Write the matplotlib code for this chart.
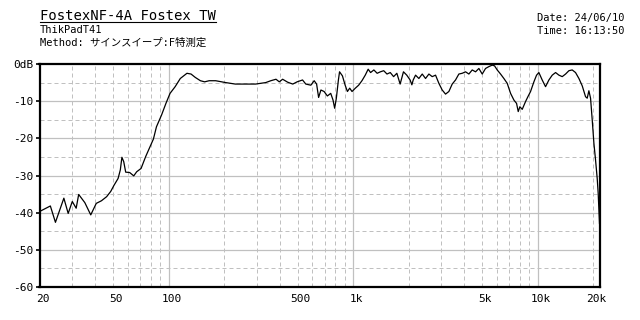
import matplotlib
matplotlib.use('Agg')
import matplotlib.pyplot as plt
from matplotlib.lines import Line2D
from matplotlib.transforms import IdentityTransform, ScaledTranslation

# ---- data ----
freq_hz = [20, 22.9, 24.4, 27.1, 28.6, 30.1, 31.6, 32.6, 35.2, 37.9, 40.6, 43.3, 46.2,
           48.6, 50.7, 53.3, 54.8, 55.9, 57.2, 58.6, 61.6, 64.8, 67.2, 71.0, 75.2, 79.2,
           82.8, 86.0, 91.7, 96.8, 101.9, 108.6, 115.8, 125.8, 132.4, 139.5, 148.8, 156.9,
           166, 180, 204, 230, 262, 296, 336, 358, 382, 398, 415, 442, 471, 497, 532, 554,
           590, 615, 634, 650, 669, 696, 725, 756, 778, 794, 811, 832, 844, 875, 905, 931,
           958, 986, 1028, 1071, 1116, 1163, 1206, 1243, 1295, 1349, 1405, 1464, 1525,
           1589, 1656, 1725, 1797, 1873, 1952, 2035, 2080, 2115, 2178, 2270, 2367, 2467,
           2572, 2681, 2795, 2913, 3037, 3166, 3300, 3440, 3586, 3738, 3897, 4063, 4235,
           4415, 4603, 4798, 5002, 5214, 5436, 5667, 5834, 6031, 6288, 6555, 6833, 7124,
           7427, 7677, 7838, 8002, 8239, 8589, 8843, 9141, 9530, 9852, 10140, 10570, 11020,
           11490, 11980, 12490, 13020, 13570, 14150, 14750, 15370, 16020, 16710, 17420,
           18150, 18530, 18920, 19320, 19730, 20140, 20560, 20990, 21250, 21600]
level_db = [-39.7, -38.2, -42.6, -36.1, -40.2, -37.0, -38.8, -35.1, -37.3, -40.6, -37.5,
            -36.8, -35.7, -34.3, -32.6, -30.8, -28.5, -25.1, -26.3, -29.1, -29.2, -30.1,
            -29.0, -28.1, -24.9, -22.4, -20.2, -16.9, -13.7, -10.6, -7.9, -6.1, -3.9, -2.5,
            -2.7, -3.6, -4.5, -4.8, -4.5, -4.5, -5.0, -5.4, -5.4, -5.4, -5.0, -4.5, -4.1,
            -4.8, -4.1, -4.9, -5.4, -4.8, -4.3, -5.4, -5.7, -4.5, -5.4, -9.0, -7.0, -7.4,
            -8.6, -7.9, -9.7, -11.9, -9.2, -4.3, -2.1, -3.2, -5.7, -7.4, -6.5, -7.4, -6.5,
            -5.7, -4.5, -3.0, -1.4, -2.3, -1.6, -2.5, -2.1, -1.8, -2.7, -2.3, -3.4, -2.5,
            -5.4, -2.1, -3.0, -4.3, -5.6, -4.3, -3.0, -3.9, -2.7, -3.9, -2.7, -3.4, -3.0,
            -5.2, -7.0, -8.1, -7.4, -5.4, -4.3, -2.7, -2.5, -2.1, -2.7, -1.6, -2.1, -1.2,
            -2.7, -1.2, -0.7, -0.3, -0.5, -1.6, -2.7, -3.9, -5.2, -7.9, -9.7, -10.6, -12.8,
            -11.5, -12.2, -10.1, -8.8, -7.4, -4.8, -3.0, -2.3, -4.3, -6.1, -4.3, -3.0, -2.3,
            -3.0, -3.4, -2.7, -1.8, -1.6, -2.3, -3.9, -5.9, -8.8, -9.2, -7.2, -9.2, -15.1,
            -21.3, -25.8, -30.8, -34.8, -42.9]

x_tick_values = [20, 50, 100, 500, 1000, 5000, 10000, 20000]
x_tick_labels = ['20', '50', '100', '500', '1k', '5k', '10k', '20k']
y_tick_values = [0, -10, -20, -30, -40, -50, -60]
y_tick_labels = ['0dB', '-10', '-20', '-30', '-40', '-50', '-60']

title_text = 'FostexNF-4A Fostex TW'
device_text = 'ThikPadT41'
method_text = 'Method: サインスイープ:F特測定'
date_text = 'Date: 24/06/10'
time_text = 'Time: 16:13:50'

MONO = ['DejaVu Sans Mono', 'Noto Sans CJK JP']
W, H = 640, 320

fig = plt.figure(figsize=(6.4, 3.2), dpi=100)
fig.patch.set_facecolor('white')
ax = fig.add_axes([39.5 / W, 1 - 287 / H, 560 / W, 223 / H])
ax.set_xscale('log')
ax.set_xlim(20, 21600)
ax.set_ylim(-60, 0)

# grid
grid_c = '#c0c0c0'
solid_x = [100, 1000, 10000]
dashed_x = [m * d for d in (10, 100, 1000, 10000) for m in range(2, 10)
            if 20 < m * d < 21600 and m * d not in solid_x]
solid_y = [-10, -20, -30, -40, -50]
dashed_y = [-5, -15, -25, -35, -45, -55]
for xv in dashed_x:
    ax.axvline(xv, color=grid_c, lw=0.72, linestyle=(0, (4, 3)), zorder=1)
for xv in solid_x:
    ax.axvline(xv, color=grid_c, lw=0.9, zorder=1)
for yv in dashed_y:
    ax.axhline(yv, color=grid_c, lw=0.72, linestyle=(0, (4, 3)), zorder=1)
for yv in solid_y:
    ax.axhline(yv, color=grid_c, lw=0.9, zorder=1)

ax.plot(freq_hz, level_db, color='black', lw=0.9, zorder=3)

ax.set_xticks(x_tick_values)
ax.set_xticklabels(x_tick_labels)
ax.xaxis.set_minor_locator(matplotlib.ticker.NullLocator())
ax.set_yticks(y_tick_values)
ax.set_yticklabels(y_tick_labels)
ax.tick_params(axis='x', length=0, pad=5, labelsize=8)
ax.tick_params(axis='y', length=3, width=1.2, pad=1.5, labelsize=8)
shift = ScaledTranslation(3 / 100, 0, fig.dpi_scale_trans)
for lab in ax.get_xticklabels():
    lab.set_family(MONO)
    lab.set_transform(lab.get_transform() + shift)
for lab in ax.get_yticklabels():
    lab.set_family(MONO)
for sp in ax.spines.values():
    sp.set_linewidth(1.6)
    sp.set_color('black')
    sp.set_zorder(4)

# header texts
t_title = fig.text(40 / W, 1 - 19.5 / H, title_text, fontsize=10, family=MONO,
                   va='baseline', ha='left')
fig.text(40 / W, 1 - 33 / H, device_text, fontsize=7.5, family=MONO, va='baseline')
fig.text(40 / W, 1 - 45.5 / H, method_text, fontsize=7.5, family=MONO, va='baseline')
fig.text(537 / W, 1 - 21 / H, date_text, fontsize=7.5, family=MONO, va='baseline')
fig.text(537 / W, 1 - 34 / H, time_text, fontsize=7.5, family=MONO, va='baseline')

fig.canvas.draw()
bb = t_title.get_window_extent(fig.canvas.get_renderer())
uy = H - 21.5
fig.add_artist(Line2D([bb.x0, bb.x1], [uy, uy], transform=IdentityTransform(),
                      color='black', lw=0.8))

fig.savefig('out.png', dpi=100)
